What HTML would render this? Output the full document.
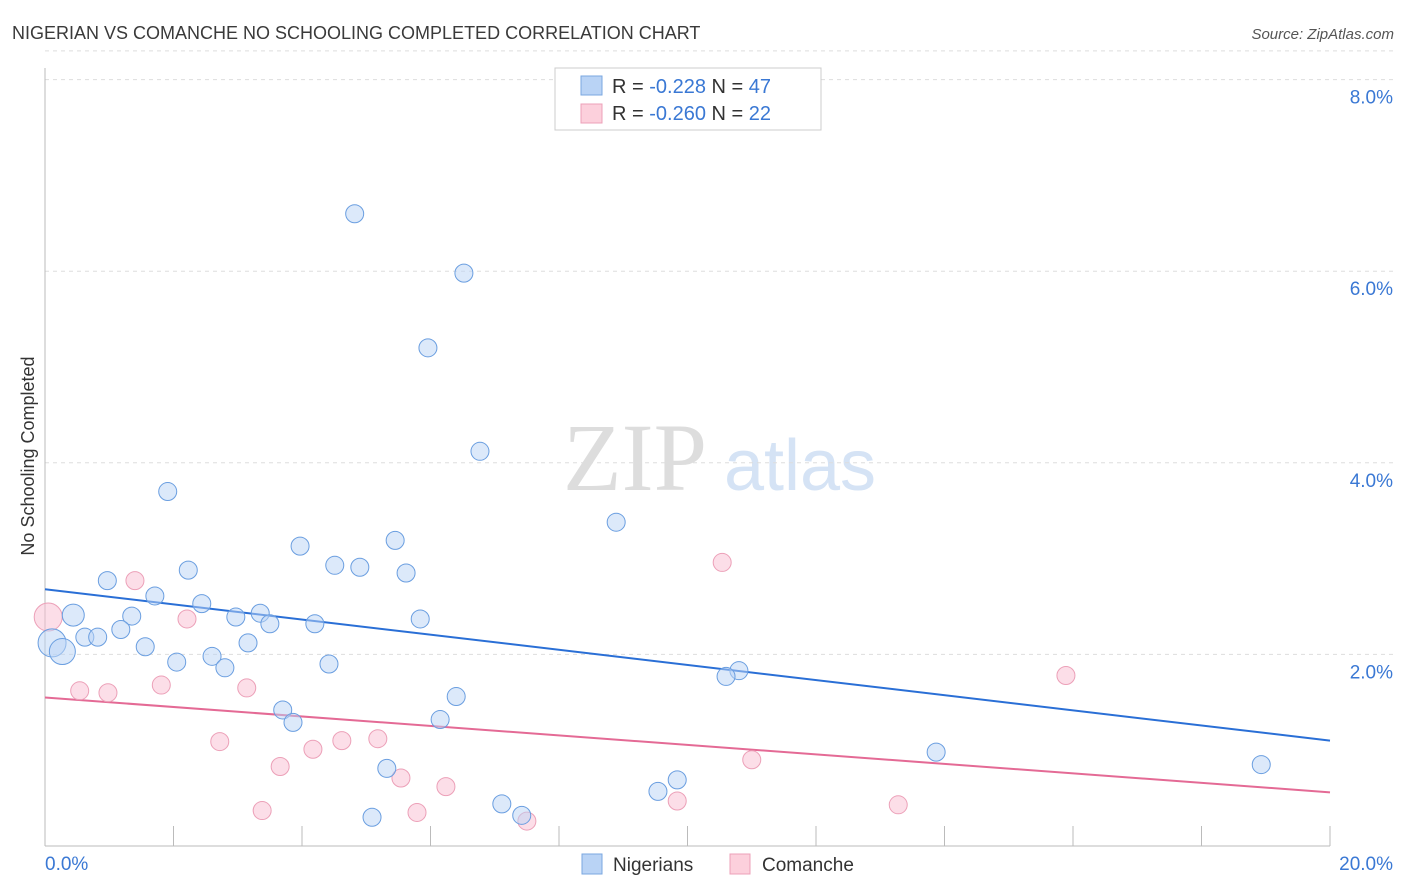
<!DOCTYPE html>
<html><head><meta charset="utf-8"><style>
body{margin:0;background:#fff;font-family:"Liberation Sans",sans-serif;}
svg{display:block}
</style></head><body>
<svg id="c" width="1406" height="892">
<text x="12" y="39" font-size="18" fill="#3a3a3a">NIGERIAN VS COMANCHE NO SCHOOLING COMPLETED CORRELATION CHART</text>
<text x="1394" y="39" font-size="15" fill="#555" font-style="italic" text-anchor="end">Source: ZipAtlas.com</text>
<text x="34" y="456" font-size="18" fill="#333" transform="rotate(-90 34 456)" text-anchor="middle">No Schooling Completed</text>
<g><text x="635" y="490" font-size="96" fill="#ddd" font-family="Liberation Serif" text-anchor="middle">ZIP</text><text x="800" y="490" font-size="72" fill="#d5e3f5" text-anchor="middle">atlas</text></g>
<g id="grid"></g><g id="axes"></g><g id="lines"></g><g id="pts"></g>
<g>
<rect x="555" y="68" width="266" height="62" fill="#fff" stroke="#ccc"/>
<rect x="581" y="76" width="21" height="19" fill="#b9d3f5" stroke="#7aa7e0"/>
<rect x="581" y="104" width="21" height="19" fill="#fcd0dc" stroke="#eca0b8"/>
<text x="612" y="93" font-size="20" fill="#333">R = <tspan fill="#3a78d4">-0.228</tspan>   N = <tspan fill="#3a78d4">47</tspan></text>
<text x="612" y="120" font-size="20" fill="#333">R = <tspan fill="#3a78d4">-0.260</tspan>   N = <tspan fill="#3a78d4">22</tspan></text>
</g>
<g>
<rect x="582" y="854" width="20" height="20" fill="#b9d3f5" stroke="#7aa7e0"/>
<text x="613" y="871" font-size="19" fill="#333">Nigerians</text>
<rect x="730" y="854" width="20" height="20" fill="#fcd0dc" stroke="#eca0b8"/>
<text x="762" y="871" font-size="19" fill="#333">Comanche</text>
</g>
</svg>
<script>
const yTicks=[2,4,6,8];
const xTickLabels=["0.0%","20.0%"];
const blueX=[4.82,6.52,5.96,6.77,1.91,8.89,5.45,3.97,4.51,4.9,5.62,2.23,0.97,1.71,2.44,1.35,0.44,2.97,3.35,3.5,5.84,4.2,1.18,0.62,0.82,1.56,3.16,0.11,0.27,2.6,2.05,2.8,4.42,10.8,10.6,6.4,3.7,3.86,6.15,13.87,5.32,9.84,9.54,18.93,7.11,7.42,5.09];
const blueY=[6.6,5.98,5.2,4.12,3.7,3.38,3.19,3.13,2.93,2.91,2.85,2.88,2.77,2.61,2.53,2.4,2.41,2.39,2.43,2.32,2.37,2.32,2.26,2.18,2.18,2.08,2.12,2.12,2.03,1.98,1.92,1.86,1.9,1.83,1.77,1.56,1.42,1.29,1.32,0.98,0.81,0.69,0.57,0.85,0.44,0.32,0.3];
const blueR=[9,9,9,9,9,9,9,9,9,9,9,9,9,9,9,9,11,9,9,9,9,9,9,9,9,9,9,14,13,9,9,9,9,9,9,9,9,9,9,9,9,9,9,9,9,9,9];
const pinkX=[0.05,1.4,2.21,0.54,0.98,1.81,3.14,2.72,4.17,4.62,5.18,3.66,5.54,6.24,3.38,5.79,7.5,10.54,11,9.84,13.28,15.89];
const pinkY=[2.39,2.77,2.37,1.62,1.6,1.68,1.65,1.09,1.01,1.10,1.12,0.83,0.71,0.62,0.37,0.35,0.26,2.96,0.9,0.47,0.43,1.78];
const pinkR=[14,9,9,9,9,9,9,9,9,9,9,9,9,9,9,9,9,9,9,9,9,9];
const trendBlue=[2.68,1.10];
const trendPink=[1.55,0.56];
const X=v=>45+v*64.25, Y=v=>846-v*95.8;
const NS="http://www.w3.org/2000/svg";
function mk(t,a,p){const e=document.createElementNS(NS,t);for(const k in a)e.setAttribute(k,a[k]);p.appendChild(e);return e;}
const grid=document.getElementById('grid'),axes=document.getElementById('axes');
yTicks.forEach(t=>{const l=mk('line',{x1:45,x2:1394,y1:Y(t),y2:Y(t),stroke:'#ddd','stroke-dasharray':'4 4'},grid);


const tx=mk('text',{x:1393,y:Y(t)+24,'font-size':19,fill:'#3a78d4','text-anchor':'end'},axes);tx.textContent=t.toFixed(1)+'%';

});
const tl=mk('line',{x1:45,x2:1394,y1:Y(8.3),y2:Y(8.3),stroke:'#ddd','stroke-dasharray':'4 4'},grid);
mk('line',{x1:45,x2:45,y1:68,y2:846,stroke:'#bbb'},axes);
mk('line',{x1:45,x2:1330,y1:846,y2:846,stroke:'#bbb'},axes);
for(let i=0;i<=10;i++){mk('line',{x1:X(i*2),x2:X(i*2),y1:826,y2:846,stroke:'#bbb'},axes);}
const xl0=mk('text',{x:45,y:870,'font-size':19,fill:'#3a78d4'},axes);xl0.textContent=xTickLabels[0];


const xl1=mk('text',{x:1393,y:870,'font-size':19,fill:'#3a78d4','text-anchor':'end'},axes);xl1.textContent=xTickLabels[1];


const lines=document.getElementById('lines'),pts=document.getElementById('pts');
pinkX.forEach((v,i)=>{const c=mk('circle',{cx:X(v),cy:Y(pinkY[i]),r:pinkR[i],fill:'rgba(250,190,210,0.5)',stroke:'#eca0b8','stroke-width':1},pts);

});
blueX.forEach((v,i)=>{const c=mk('circle',{cx:X(v),cy:Y(blueY[i]),r:blueR[i],fill:'rgba(185,211,245,0.5)',stroke:'#6a9ee0','stroke-width':1},pts);

});
const bl=mk('line',{x1:X(0),y1:Y(trendBlue[0]),x2:X(20),y2:Y(trendBlue[1]),stroke:'#2a6fd6','stroke-width':2},lines);


const pl=mk('line',{x1:X(0),y1:Y(trendPink[0]),x2:X(20),y2:Y(trendPink[1]),stroke:'#e46a95','stroke-width':2},lines);


</script>
</body></html>
